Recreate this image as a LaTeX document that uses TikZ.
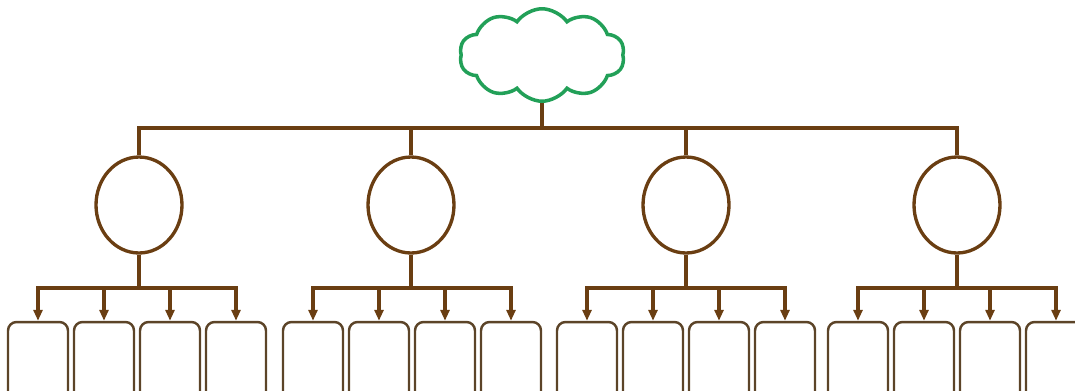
\documentclass[tikz,border=0pt]{standalone}
\usepackage{tikz}
\usetikzlibrary{arrows.meta, shapes}

\definecolor{barbrown}{RGB}{106,62,18}
\definecolor{boxbrown}{RGB}{92,68,40}
\definecolor{cloudgreen}{RGB}{34,160,88}

\begin{document}
\begin{tikzpicture}[x=0.02cm, y=-0.02cm]
\useasboundingbox (0,0) rectangle (1075,390);
\clip (0,0) rectangle (1075,390);

% top of the tree
\begin{scope}
    \node (R) at (542,55) [cloud, cloud puffs=10, cloud puff arc=110, cloud ignores aspect,
        draw=cloudgreen, line width=2pt, fill=white,
        minimum width=3.3cm, minimum height=1.85cm] {};
    \coordinate (T) at (542,128);
\end{scope}

% middle level
\begin{scope}[every node/.style={ellipse,draw=barbrown,line width=1.9pt,
              minimum width=1.72cm,minimum height=1.92cm,inner sep=0pt}]
    \node (E1) at (139,205) {};
    \node (E2) at (411,205) {};
    \node (E3) at (686,205) {};
    \node (E4) at (957,205) {};
\end{scope}
\coordinate (J1) at (139,288);
\coordinate (J2) at (411,288);
\coordinate (J3) at (686,288);
\coordinate (J4) at (957,288);

% bottom level
\begin{scope}[every node/.style={rectangle,rounded corners=1.7mm,draw=boxbrown,
              line width=1.4pt,minimum width=1.2cm,minimum height=2cm}]
    \node (A1) at (38,372) {};
    \node (A2) at (104,372) {};
    \node (A3) at (170,372) {};
    \node (A4) at (236,372) {};

    \node (B1) at (313,372) {};
    \node (B2) at (379,372) {};
    \node (B3) at (445,372) {};
    \node (B4) at (511,372) {};

    \node (C1) at (587,372) {};
    \node (C2) at (653,372) {};
    \node (C3) at (719,372) {};
    \node (C4) at (785,372) {};

    \node (D1) at (858,372) {};
    \node (D2) at (924,372) {};
    \node (D3) at (990,372) {};
    \node (D4) at (1056,372) {};
\end{scope}

\begin{scope}[every edge/.style={draw=barbrown,line width=2.8pt,
              to path={-| (\tikztotarget)}}]
    \path [-] (R.south) edge (T);
    \path [-] (T) edge (E1);
    \path [-] (T) edge (E2);
    \path [-] (T) edge (E3);
    \path [-] (T) edge (E4);
\end{scope}

\begin{scope}[>={Triangle[length=2.2mm,width=1.8mm]},
              every edge/.style={draw=barbrown,line width=1.8pt,
              to path={-| (\tikztotarget)}}]
    \path [-] (E1.south) edge (J1);
    \path [-] (E2.south) edge (J2);
    \path [-] (E3.south) edge (J3);
    \path [-] (E4.south) edge (J4);

    \path [->] (J1) edge (A1);
    \path [->] (J1) edge (A2);
    \path [->] (J1) edge (A3);
    \path [->] (J1) edge (A4);

    \path [->] (J2) edge (B1);
    \path [->] (J2) edge (B2);
    \path [->] (J2) edge (B3);
    \path [->] (J2) edge (B4);

    \path [->] (J3) edge (C1);
    \path [->] (J3) edge (C2);
    \path [->] (J3) edge (C3);
    \path [->] (J3) edge (C4);

    \path [->] (J4) edge (D1);
    \path [->] (J4) edge (D2);
    \path [->] (J4) edge (D3);
    \path [->] (J4) edge (D4);
\end{scope}
\end{tikzpicture}
\end{document}
